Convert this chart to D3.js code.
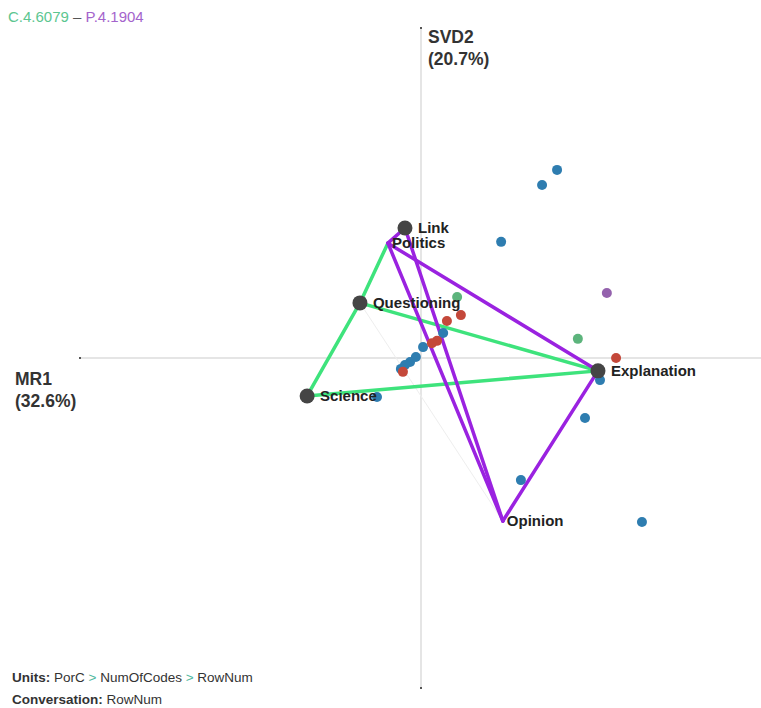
<!DOCTYPE html>
<meta charset="utf-8">
<script src="https://cdnjs.cloudflare.com/ajax/libs/d3/7.8.5/d3.min.js"></script>
<style>
  body { margin: 0; background: #fff; font-family: "Liberation Sans", Arial, sans-serif; }
</style>
<body>
<script>

// node names and their coordinates (MR1, SVD2)
var codes = ["Link", "Politics", "Questioning", "Science", "Explanation", "Opinion"];
var codeX = [-0.047, -0.097, -0.179, -0.334, 0.519, 0.240];
var codeY = [0.394, 0.348, 0.167, -0.115, -0.039, -0.494];
// politics and opinion have no dot drawn
var codeDot = [true, false, true, true, true, false];

// network edges for each side
var greenEdges = [["Science", "Questioning"], ["Questioning", "Politics"], ["Questioning", "Explanation"], ["Science", "Explanation"]];
var purpleEdges = [["Link", "Politics"], ["Politics", "Explanation"], ["Politics", "Opinion"], ["Link", "Opinion"], ["Explanation", "Opinion"]];
var faintEdges = [["Questioning", "Opinion"]];

// unit points
var pointX = [0.399, 0.355, 0.235, 0.525, 0.481, 0.293, 0.648, -0.129, 0.065, 0.006, -0.015, -0.032, -0.047, -0.059,
              0.117, 0.076, 0.047, 0.032, -0.053, 0.572,
              0.106, 0.460,
              0.545];
var pointY = [0.570, 0.524, 0.352, -0.067, -0.182, -0.370, -0.497, -0.118, 0.076, 0.033, 0.003, -0.012, -0.021, -0.033,
              0.130, 0.112, 0.052, 0.045, -0.042, 0.000,
              0.185, 0.058,
              0.197];
var pointGroup = ["b", "b", "b", "b", "b", "b", "b", "b", "b", "b", "b", "b", "b", "b",
                  "r", "r", "r", "r", "r", "r",
                  "g", "g",
                  "p"];

var width = 761, height = 708;

var svg = d3.select("body").append("svg")
    .attr("width", width)
    .attr("height", height);

// scales
var x = d3.scaleLinear().domain([-1, 1]).range([80, 762]);
var y = d3.scaleLinear().domain([-1, 1]).range([688, 28]);

var groupColor = d3.scaleOrdinal()
  .domain(["b", "r", "g", "p"])
  .range(["#2e7db0", "#c4483a", "#5cb47c", "#9462ad"]);

// axes
svg.append("line")
    .attr("x1", x(-1)).attr("x2", x(1))
    .attr("y1", y(0)).attr("y2", y(0))
    .attr("stroke", "#dcdcdc").attr("stroke-width", 1.5);
svg.append("line")
    .attr("x1", x(0)).attr("x2", x(0))
    .attr("y1", y(-1)).attr("y2", y(1))
    .attr("stroke", "#dcdcdc").attr("stroke-width", 1.5);

// little end marks on the axes
var ends = [[-1, 0], [1, 0], [0, -1], [0, 1]];
svg.selectAll(".endmark")
  .data(ends)
  .enter()
  .append("rect")
    .attr("x", function(d) { return x(d[0]) - 1; })
    .attr("y", function(d) { return y(d[1]) - 1; })
    .attr("width", 2).attr("height", 2)
    .attr("fill", "#555");

// axis labels
var axisLbl = svg.append("g").attr("font-weight", "bold").attr("font-size", 17.5).attr("fill", "#333");
axisLbl.append("text").attr("x", x(0) + 7).attr("y", 43).text("SVD2");
axisLbl.append("text").attr("x", x(0) + 7).attr("y", 65).text("(20.7%)");
axisLbl.append("text").attr("x", 15).attr("y", y(0) + 27).text("MR1");
axisLbl.append("text").attr("x", 15).attr("y", y(0) + 49).text("(32.6%)");

function pos(name) {
  var i = codes.indexOf(name);
  return [x(codeX[i]), y(codeY[i])];
}

function drawEdges(edges, color, w) {
  svg.append("g")
    .selectAll("line")
    .data(edges)
    .enter()
    .append("line")
      .attr("x1", function(d) { return pos(d[0])[0]; })
      .attr("y1", function(d) { return pos(d[0])[1]; })
      .attr("x2", function(d) { return pos(d[1])[0]; })
      .attr("y2", function(d) { return pos(d[1])[1]; })
      .attr("stroke", color)
      .attr("stroke-width", w)
      .attr("stroke-linecap", "round");
}

drawEdges(faintEdges, "#eeeeee", 1);
drawEdges(greenEdges, "#3ee37c", 3.5);
drawEdges(purpleEdges, "#9a22e0", 3.5);

// unit points
svg.append("g")
  .selectAll("circle")
  .data(pointX)
  .enter()
  .append("circle")
    .attr("cx", function(d) { return x(d); })
    .attr("cy", function(d, i) { return y(pointY[i]); })
    .attr("r", 5)
    .attr("fill", function(d, i) { return groupColor(pointGroup[i]); });

// code nodes
svg.append("g")
  .selectAll("circle")
  .data(codes.filter(function(d, i) { return codeDot[i]; }))
  .enter()
  .append("circle")
    .attr("cx", function(d) { return pos(d)[0]; })
    .attr("cy", function(d) { return pos(d)[1]; })
    .attr("r", 7.5)
    .attr("fill", "#454545");

// code labels
svg.append("g")
  .selectAll("text")
  .data(codes)
  .enter()
  .append("text")
    .attr("x", function(d, i) { return pos(d)[0] + (codeDot[i] ? 13 : 4); })
    .attr("y", function(d) { return pos(d)[1] + 5; })
    .attr("font-weight", "bold")
    .attr("font-size", 15)
    .attr("fill", "#222")
    .text(function(d) { return d; });

// title
var title = svg.append("text").attr("x", 8).attr("y", 22).attr("font-size", 15);
title.append("tspan").attr("fill", "#5cc690").text("C.4.6079");
title.append("tspan").attr("fill", "#555").text(" – ");
title.append("tspan").attr("fill", "#a464cc").text("P.4.1904");

// footer
var units = svg.append("text").attr("x", 12).attr("y", 682).attr("font-size", 13.5).attr("fill", "#333");
units.append("tspan").attr("font-weight", "bold").text("Units: ");
units.append("tspan").text("PorC ");
units.append("tspan").attr("fill", "#4fb89e").text("> ");
units.append("tspan").text("NumOfCodes ");
units.append("tspan").attr("fill", "#4fb89e").text("> ");
units.append("tspan").text("RowNum");

var conv = svg.append("text").attr("x", 12).attr("y", 704).attr("font-size", 13.5).attr("fill", "#333");
conv.append("tspan").attr("font-weight", "bold").text("Conversation: ");
conv.append("tspan").text("RowNum");

</script>
</body>
